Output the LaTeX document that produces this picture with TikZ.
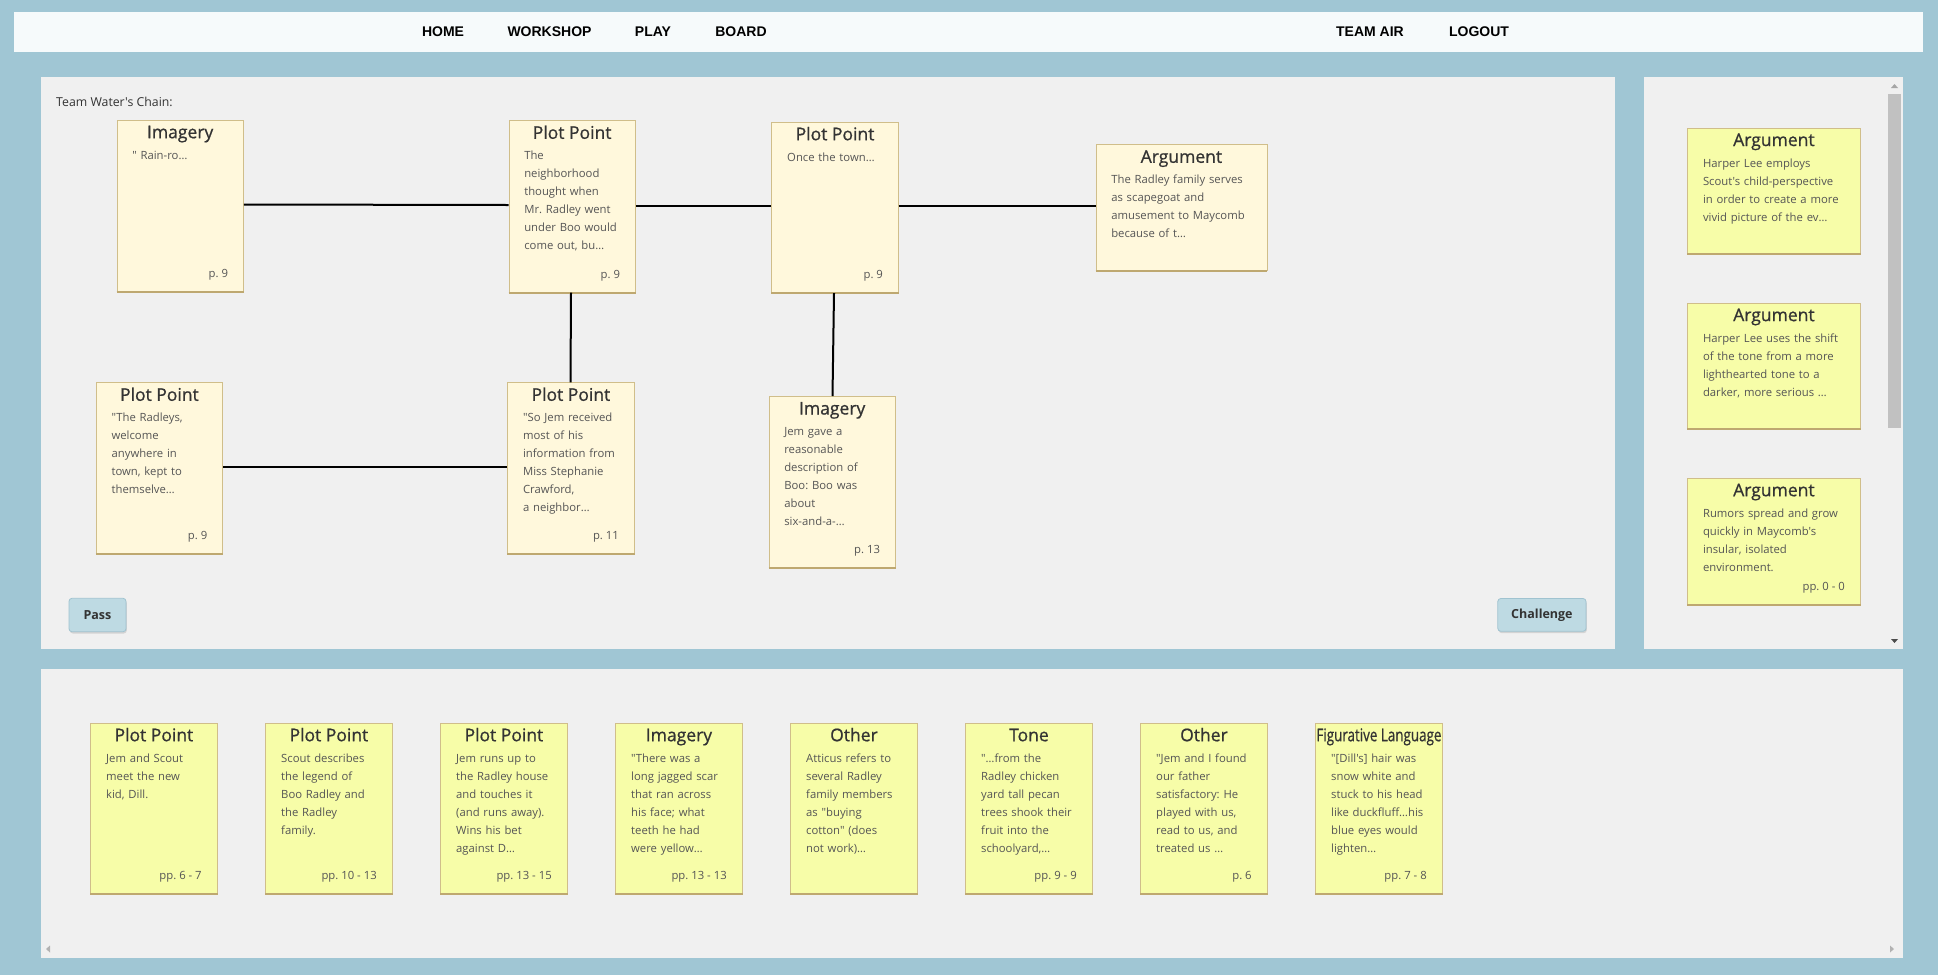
\documentclass[tikz,border=0pt]{standalone}
\usepackage{fontspec}
\usepackage{graphicx}
\setmainfont{Open Sans}[Ligatures=TeXOff]
\newfontfamily\titlefont{Open Sans}[Ligatures=TeXOff,FakeBold=0.8]
\newfontfamily\navfont{Liberation Sans}
\usetikzlibrary{calc,shadows}
\definecolor{pagebg}{RGB}{160,198,212}
\definecolor{navbg}{RGB}{246,250,251}
\definecolor{panelbg}{RGB}{240,240,240}
\definecolor{creamcard}{RGB}{255,248,220}
\definecolor{yellowcard}{RGB}{247,253,168}
\definecolor{cardedge}{RGB}{208,190,138}
\definecolor{cardbottomc}{RGB}{190,168,112}
\definecolor{titlec}{RGB}{51,51,51}
\definecolor{bodyc}{RGB}{85,85,85}
\definecolor{btnfill}{RGB}{190,218,227}
\definecolor{btnedge}{RGB}{160,195,208}
\definecolor{scrollc}{RGB}{193,193,193}
\tikzset{
 chaincard/.style={rectangle, draw=cardedge, line width=0.8pt, fill=creamcard, minimum width=126.5pt, inner sep=0pt},
 argcard/.style={chaincard, minimum width=171pt},
 sidecard/.style={rectangle, draw=cardedge, line width=0.8pt, fill=yellowcard, minimum width=172.6pt, inner sep=0pt},
 handcard/.style={sidecard, minimum width=126.3pt},
 cardbottom/.style={draw=cardbottomc, line width=2pt},
 cardtitle/.style={inner sep=0pt, text=titlec, font=\titlefont\fontsize{17.5}{20}\selectfont},
 cardbody/.style={inner sep=0pt, text=bodyc, font=\fontsize{11.3}{18}\selectfont, text width=160pt, align=left},
 cardpage/.style={inner sep=0pt, text=bodyc, font=\fontsize{11.3}{14}\selectfont},
 link/.style={draw=black, line width=2pt},
 navlink/.style={inner sep=0pt, font=\navfont\bfseries\fontsize{14}{16}\selectfont, text=black},
 button/.style={draw=btnedge, fill=btnfill, rounded corners=3pt, line width=0.8pt, font=\bfseries\fontsize{12.5}{14}\selectfont, text=titlec, inner sep=0pt, drop shadow={opacity=0.25, shadow xshift=0.8pt, shadow yshift=-1.8pt}},
 labeltext/.style={inner sep=0pt, text=titlec, font=\fontsize{12.3}{14}\selectfont}
}
% #1 name, #2 style, #3 left x, #4 top y, #5 height, #6 title, #7 body, #8 page
\newcommand\mkcard[8]{%
  \node[#2, minimum height=#5pt, anchor=north west] (#1) at (#3,#4) {};
  \draw[cardbottom] (#1.south west) -- (#1.south east);
  \node[cardtitle, anchor=base] (#1-t) at ([yshift=-18.5pt]#1.north) {#6};
  \node[cardbody, anchor=base west] (#1-b) at ([xshift=15.6pt,yshift=-39.5pt]#1.north west) {#7};
  \node[cardpage, anchor=base east] (#1-p) at ([xshift=-15.6pt,yshift=14.5pt]#1.south east) {#8};
}
\frenchspacing
\begin{document}
\frenchspacing
\begin{tikzpicture}[x=1pt,y=-1pt]
\useasboundingbox (0,0) rectangle (1938,975);
\fill[pagebg] (0,0) rectangle (1938,975);
% navigation bar
\fill[navbg] (13.6,12.4) rectangle (1922.6,51.8);
\node[navlink, anchor=base] (home) at (443,36) {HOME};
\node[navlink, anchor=base] (workshop) at (549.5,36) {WORKSHOP};
\node[navlink, anchor=base] (play) at (653,36) {PLAY};
\node[navlink, anchor=base] (board) at (741,36) {BOARD};
\node[navlink, anchor=base] (teamair) at (1370,36) {TEAM AIR};
\node[navlink, anchor=base] (logout) at (1479,36) {LOGOUT};
% panels
\fill[panelbg] (41,77) rectangle (1615,649);
\fill[panelbg] (1644,77) rectangle (1903,649);
\fill[panelbg] (41,669) rectangle (1903,958);
% scroll bits
\fill[scrollc] (1888,94) rectangle (1901,428);
\fill[black!35] (1891,88) -- (1898,88) -- (1894.5,84) -- cycle;
\fill[black!70] (1891,639) -- (1898,639) -- (1894.5,643) -- cycle;
\fill[black!30] (50,945.5) -- (50,952.5) -- (46,949) -- cycle;
\fill[black!30] (1890,945.5) -- (1890,952.5) -- (1894,949) -- cycle;
% chain
\node[labeltext, anchor=base west] (chainlabel) at (56,106.5) {Team Water's Chain:};
\mkcard{img1}{chaincard}{116.5}{119.7}{171}{Imagery}{" Rain-ro…}{p. 9}
\mkcard{pp1}{chaincard}{508.5}{120.3}{171.4}{Plot Point}{The\\neighborhood\\thought when\\Mr. Radley went\\under Boo would\\come out, bu…}{p. 9}
\mkcard{pp2}{chaincard}{771.4}{121.7}{170.6}{Plot Point}{Once the town…}{p. 9}
\mkcard{arg}{argcard}{1095.5}{144.3}{126}{Argument}{The Radley family serves\\as scapegoat and\\amusement to Maycomb\\because of t…}{}
\mkcard{ppl}{chaincard}{95.8}{382.3}{171}{Plot Point}{"The Radleys,\\welcome\\anywhere in\\town, kept to\\themselve…}{p. 9}
\mkcard{ppm}{chaincard}{507.3}{382.3}{171}{Plot Point}{"So Jem received\\most of his\\information from\\Miss Stephanie\\Crawford,\\a neighbor…}{p. 11}
\mkcard{img2}{chaincard}{768.5}{396}{171.3}{Imagery}{Jem gave a\\reasonable\\description of\\Boo: Boo was\\about\\six-and-a-…}{p. 13}
\draw[link] (img1.east |- 0,204.5) -- (pp1.west |- 0,205);
\draw[link] (pp1.east |- 0,205.5) -- (pp2.west |- 0,205.5);
\draw[link] (pp2.east |- 0,206) -- (arg.west |- 0,206);
\draw[link] (pp1.south -| 571,0) -- (ppm.north -| 570.5,0);
\draw[link] (pp2.south -| 834,0) -- (img2.north -| 832.5,0);
\draw[link] (ppl.east |- 0,466.7) -- (ppm.west |- 0,466.7);
% buttons
\node[button, minimum width=57pt, minimum height=33.4pt] (pass) at (97.5,615) {Pass};
\node[button, minimum width=88.2pt, minimum height=32.8pt] (challenge) at (1541.9,614.9) {Challenge};
% side cards
\mkcard{side1}{sidecard}{1687.2}{127.5}{126}{Argument}{Harper Lee employs\\Scout's child-perspective\\in order to create a more\\vivid picture of the ev…}{}
\mkcard{side2}{sidecard}{1687.2}{302.6}{126}{Argument}{Harper Lee uses the shift\\of the tone from a more\\lighthearted tone to a\\darker, more serious …}{}
\mkcard{side3}{sidecard}{1687.2}{477.7}{126}{Argument}{Rumors spread and grow\\quickly in Maycomb's\\insular, isolated\\environment.}{pp. 0 - 0}
% hand cards
\mkcard{hand1}{handcard}{90.4}{722.7}{170.6}{Plot Point}{Jem and Scout\\meet the new\\kid, Dill.}{pp. 6 - 7}
\mkcard{hand2}{handcard}{265.4}{722.7}{170.6}{Plot Point}{Scout describes\\the legend of\\Boo Radley and\\the Radley\\family.}{pp. 10 - 13}
\mkcard{hand3}{handcard}{440.4}{722.7}{170.6}{Plot Point}{Jem runs up to\\the Radley house\\and touches it\\(and runs away).\\Wins his bet\\against D…}{pp. 13 - 15}
\mkcard{hand4}{handcard}{615.4}{722.7}{170.6}{Imagery}{"There was a\\long jagged scar\\that ran across\\his face; what\\teeth he had\\were yellow…}{pp. 13 - 13}
\mkcard{hand5}{handcard}{790.4}{722.7}{170.6}{Other}{Atticus refers to\\several Radley\\family members\\as "buying\\cotton" (does\\not work)…}{}
\mkcard{hand6}{handcard}{965.4}{722.7}{170.6}{Tone}{"…from the\\Radley chicken\\yard tall pecan\\trees shook their\\fruit into the\\schoolyard,…}{pp. 9 - 9}
\mkcard{hand7}{handcard}{1140.4}{722.7}{170.6}{Other}{"Jem and I found\\our father\\satisfactory: He\\played with us,\\read to us, and\\treated us …}{p. 6}
\mkcard{hand8}{handcard}{1315.4}{722.7}{170.6}{\resizebox{125pt}{\height}{Figurative Language}}{"[Dill's] hair was\\snow white and\\stuck to his head\\like duckfluff…his\\blue eyes would\\lighten…}{pp. 7 - 8}
\end{tikzpicture}
\end{document}
